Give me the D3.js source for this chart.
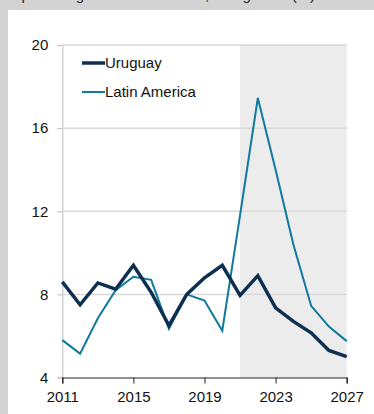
<!DOCTYPE html>
<html>
<head>
<meta charset="utf-8">
<script src="https://cdn.jsdelivr.net/npm/d3@7"></script>
<style>
  html, body { margin: 0; padding: 0; background: #fff; }
  svg { display: block; font-family: "Liberation Sans", Arial, sans-serif; }
</style>
</head>
<body>
<svg id="chart" width="374" height="414"></svg>
<script>
// Exports growth, percent
const years = [2011, 2012, 2013, 2014, 2015, 2016, 2017, 2018, 2019, 2020, 2021, 2022, 2023, 2024, 2025, 2026, 2027];
const uruguay = [8.6, 7.5, 8.55, 8.25, 9.4, 8.1, 6.5, 8.0, 8.8, 9.4, 7.95, 8.9, 7.35, 6.7, 6.15, 5.3, 5.0];
const latinAmerica = [5.8, 5.15, 6.85, 8.2, 8.85, 8.7, 6.35, 8.0, 7.7, 6.25, 11.8, 17.45, 14.0, 10.4, 7.45, 6.45, 5.75];
const yTicks = [4, 8, 12, 16, 20];
const xTicks = [2011, 2015, 2019, 2023, 2027];
const forecastStart = 2021;
const seriesNames = ["Uruguay", "Latin America"];
const title = "Exports of goods and services, real growth (%)";

const svg = d3.select("#chart");
const W = 374, H = 414;

// panel frame: grey header strip (title sits mostly above the panel) and left border
svg.append("rect").attr("x", 0).attr("y", 0).attr("width", W).attr("height", 10).attr("fill", "#d3d3d3");
svg.append("rect").attr("x", 0).attr("y", 0).attr("width", 8).attr("height", H).attr("fill", "#d3d3d3");
svg.append("text").attr("x", 4).attr("y", 0).attr("font-size", 15).attr("fill", "#222").text(title);

const x = d3.scaleLinear().domain([2011, 2027]).range([62.3, 346.7]);
const y = d3.scaleLinear().domain([4, 20]).range([377.5, 45]);

// forecast shading
svg.append("rect")
  .attr("x", x(forecastStart)).attr("y", y(20))
  .attr("width", x(2027) - x(forecastStart)).attr("height", y(4) - y(20))
  .attr("fill", "#ececec");

// y axis with gridlines
const yAxis = svg.append("g").attr("transform", `translate(${x(2011)},0)`)
  .call(d3.axisLeft(y).tickValues(yTicks).tickSize(5).tickPadding(9).tickFormat(d3.format("d")));
yAxis.select(".domain").attr("stroke", "#bdbdbd");
yAxis.selectAll(".tick line").attr("stroke", "#bdbdbd");
yAxis.selectAll(".tick text").attr("font-size", 15).attr("fill", "#111").attr("font-family", "Liberation Sans, Arial, sans-serif");

svg.append("g").selectAll("line").data(yTicks.filter(d => d > 4)).join("line")
  .attr("x1", x(2011)).attr("x2", x(2027))
  .attr("y1", d => y(d)).attr("y2", d => y(d))
  .attr("stroke", "#d9d9d9").attr("stroke-width", 1.5);

// x axis
const xAxis = svg.append("g").attr("transform", `translate(0,${y(4)})`)
  .call(d3.axisBottom(x).tickValues(xTicks).tickSize(6).tickPadding(8).tickFormat(d3.format("d")));
xAxis.select(".domain").attr("stroke", "#222").attr("stroke-width", 1.2);
xAxis.selectAll(".tick line").attr("stroke", "#222");
xAxis.selectAll(".tick text").attr("font-size", 15).attr("fill", "#111").attr("font-family", "Liberation Sans, Arial, sans-serif");

// lines
const line = d3.line().x((d, i) => x(years[i])).y(d => y(d));
svg.append("path").datum(latinAmerica).attr("d", line)
  .attr("fill", "none").attr("stroke", "#0f7a9c").attr("stroke-width", 2).attr("stroke-linejoin", "miter");
svg.append("path").datum(uruguay).attr("d", line)
  .attr("fill", "none").attr("stroke", "#0d2f52").attr("stroke-width", 3.5).attr("stroke-linejoin", "miter");

// legend
const legend = svg.append("g");
const legendItems = [
  { name: seriesNames[0], color: "#0d2f52", width: 3.5, y: 63 },
  { name: seriesNames[1], color: "#0f7a9c", width: 2, y: 92 }
];
legendItems.forEach(it => {
  legend.append("line").attr("x1", 82).attr("x2", 105).attr("y1", it.y).attr("y2", it.y)
    .attr("stroke", it.color).attr("stroke-width", it.width);
  legend.append("text").attr("x", 105).attr("y", it.y + 5).attr("font-size", 15).attr("fill", "#111").text(it.name);
});
</script>
</body>
</html>
